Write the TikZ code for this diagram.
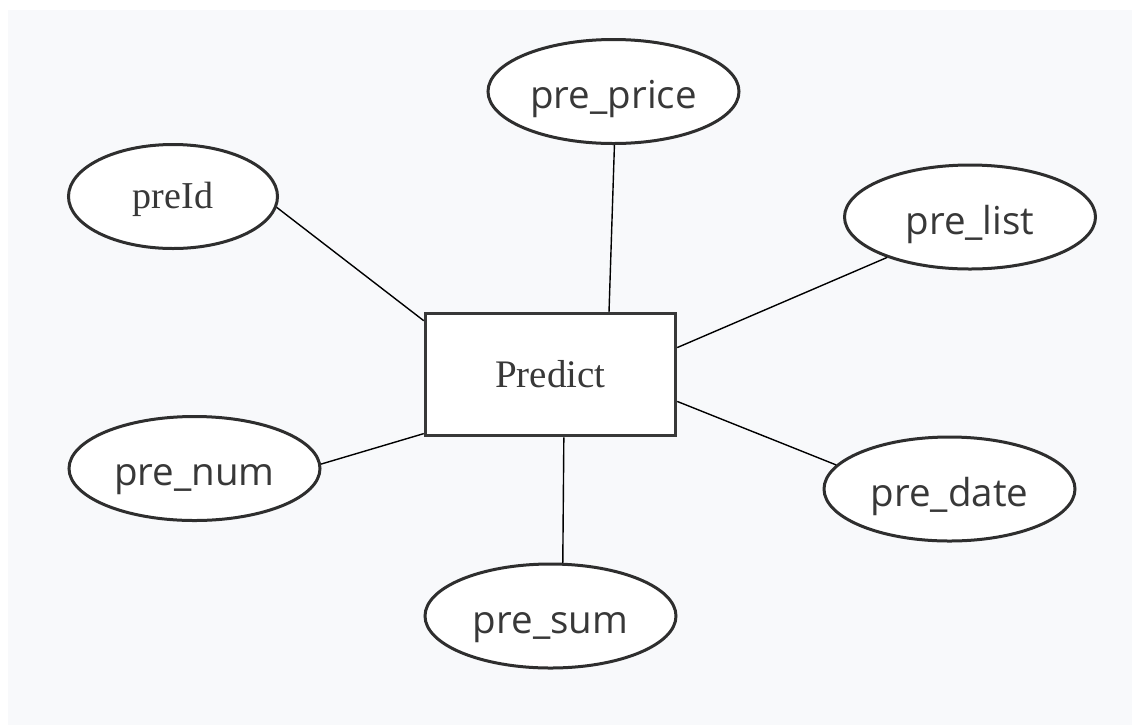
\documentclass[tikz,border=0pt]{standalone}
\usepackage{fontspec}
\setmainfont{Liberation Serif}
\newfontfamily\labelsans{Open Sans}
\usetikzlibrary{shapes.geometric}
\definecolor{pagebg}{HTML}{F8F9FB}
\definecolor{inkline}{HTML}{2E2E2E}
\definecolor{inktext}{HTML}{383838}
\tikzset{
  attr/.style={ellipse, draw=inkline, line width=3pt, fill=white, inner sep=0pt,
    minimum width=#1, minimum height=104pt, text=inktext,
    text height=34pt, text depth=0pt,
    font=\labelsans\fontsize{38.5}{40}\selectfont},
  attr/.default=251pt,
  attrserif/.style={attr=#1, text height=23pt, text depth=0pt,
    font=\fontsize{38}{40}\selectfont},
  entity/.style={rectangle, draw=inkline!95, line width=3.5pt, fill=white, inner sep=0pt,
    minimum width=250pt, minimum height=122pt, text=inktext,
    font=\fontsize{39}{42}\selectfont},
  link/.style={draw=black, line width=1.4pt}
}
\begin{document}
\begin{tikzpicture}[x=1pt,y=-1pt]
  \useasboundingbox (0,0) rectangle (1132,724);
  % canvas
  \fill[white] (0,0) rectangle (1132,724);
  \fill[pagebg] (8,10) rectangle (1133,725);

  % entity
  \node[entity] (ent) at (550.5,374.5) {Predict};

  % attributes
  \node[attrserif=209pt] (preid) at (173,196.5) {preId};
  \node[attr] (price) at (613.5,91.5) {pre\_price};
  \node[attr] (list) at (970,217) {pre\_list};
  \node[attr] (num) at (194.5,468.5) {pre\_num};
  \node[attr] (date) at (949.5,489) {pre\_date};
  \node[attr] (sum) at (550.5,616) {pre\_sum};

  % connectors
  \draw[link] (preid.-6.6) -- (ent.157.8);
  \draw[link] (price.-89.5) -- (ent.47.4);
  \draw[link] (list.206.6) -- (ent.12.3);
  \draw[link] (ent.-12.7) -- (date.168.7);
  \draw[link] (num.2.2) -- (ent.205.5);
  \draw[link] (ent.-78.7) -- (sum.77.5);
\end{tikzpicture}
\end{document}
